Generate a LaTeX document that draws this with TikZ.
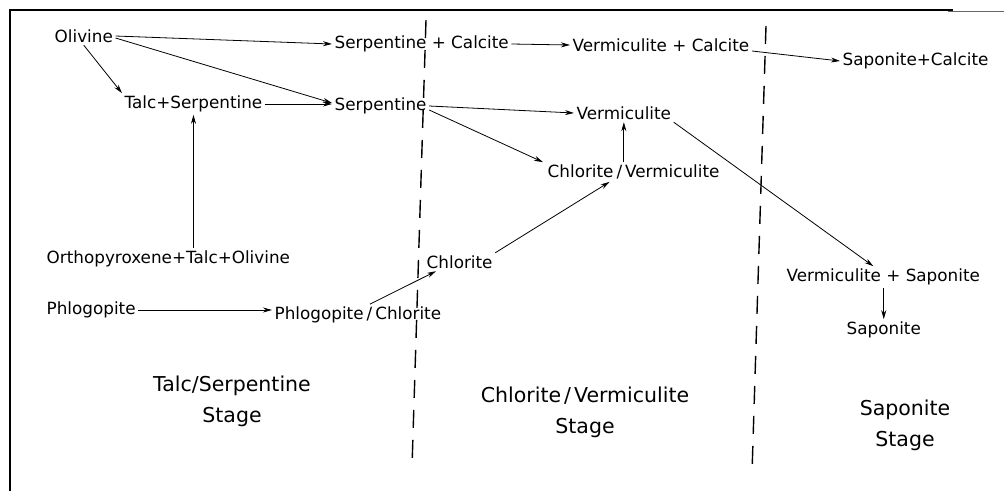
\documentclass[tikz,border=0pt]{standalone}
\usepackage{fontspec}
\setmainfont{DejaVu Sans}
\usetikzlibrary{arrows.meta}
\newcommand{\slashsep}{\kern3pt/\kern3pt}
\begin{document}
\begin{tikzpicture}[x=1pt,y=-1pt,
  mineral/.style={inner sep=2.5pt, anchor=west, font=\fontsize{16.8}{30}\selectfont},
  stagelbl/.style={inner sep=0pt, align=center, anchor=center, font=\fontsize{20.5}{31}\selectfont},
  arr/.style={-{Stealth[length=9pt,width=5pt]}, line width=0.8pt},
  stagesep/.style={line width=1.4pt, dash pattern=on 18pt off 12pt},
  frame/.style={line width=2.5pt}]
\useasboundingbox (0,0) rectangle (1004,491);
\fill[white] (0,0) rectangle (1004,491);

% frame
\draw[frame] (10,491) -- (10,10) -- (953,10);
\draw[line width=1pt, black!60] (948,11.5) -- (1004,11.5);

% stage boundaries
\coordinate (d1t) at (426,20);
\coordinate (d1b) at (412,467);
\coordinate (d2t) at (766,26);
\coordinate (d2b) at (752,473);
\draw[stagesep] (d1t) -- (d1b);
\draw[stagesep] (d2t) -- (d2b);

% minerals
\node[mineral] (oliv)     at (52,36)   {Olivine};
\node[mineral] (serpcal)  at (332,44)  {Serpentine + Calcite};
\node[mineral] (vermcal)  at (570,45)  {Vermiculite + Calcite};
\node[mineral] (sapcal)   at (840,61)  {Saponite+Calcite};
\node[mineral] (talcserp) at (122,104) {Talc+Serpentine};
\node[mineral] (serp)     at (332,106) {Serpentine};
\node[mineral] (verm)     at (574,113) {Vermiculite};
\node[mineral] (chlverm)  at (545,172) {Chlorite\slashsep Vermiculite};
\node[mineral] (ortho)    at (44,259)  {Orthopyroxene+Talc+Olivine};
\node[mineral] (chl)      at (424,262) {Chlorite};
\node[mineral] (phlog)    at (44,310)  {Phlogopite};
\node[mineral] (phlchl)   at (272,315) {Phlogopite\slashsep Chlorite};
\node[mineral] (vermsap)  at (784,277) {Vermiculite + Saponite};
\node[mineral] (sap)      at (844,330) {Saponite};

% stage names
\node[stagelbl] (ts) at (232,401) {Talc/Serpentine\\Stage};
\node[stagelbl] (cv) at (585,412) {Chlorite\slashsep Vermiculite\\Stage};
\node[stagelbl] (ss) at (905,425) {Saponite\\Stage};

% reactions (negative yshift moves a point down)
\draw[arr] (oliv.east) -- (serpcal.west);
\draw[arr] ([yshift=-2pt]oliv.east) -- ([yshift=3pt]serp.west);
\draw[arr] (oliv.south) -- (talcserp.north west);
\draw[arr] (talcserp.east) -- (talcserp.east -| serp.west);
\draw[arr] (talcserp.south |- ortho.north) -- (talcserp.south);
\draw[arr] (serpcal.east) -- (vermcal.west);
\draw[arr] ([yshift=-6pt]vermcal.east) -- (sapcal.west);
\draw[arr] (serp.east) -- (verm.west);
\draw[arr] ([yshift=-4pt]serp.east) -- ([xshift=-2pt]chlverm.north west);
\draw[arr] (verm.south |- chlverm.north) -- (verm.south);
\draw[arr] (chl.north east) -- ([xshift=-24pt]chlverm.south);
\draw[arr] (phlog.east) -- (phlog.east -| phlchl.west);
\draw[arr] ([xshift=12pt]phlchl.north) -- ([xshift=12pt]chl.south west);
\draw[arr] (verm.south east) -- ([xshift=-10pt]vermsap.north);
\draw[arr] (sap.north |- vermsap.south) -- (sap.north);
\end{tikzpicture}
\end{document}
